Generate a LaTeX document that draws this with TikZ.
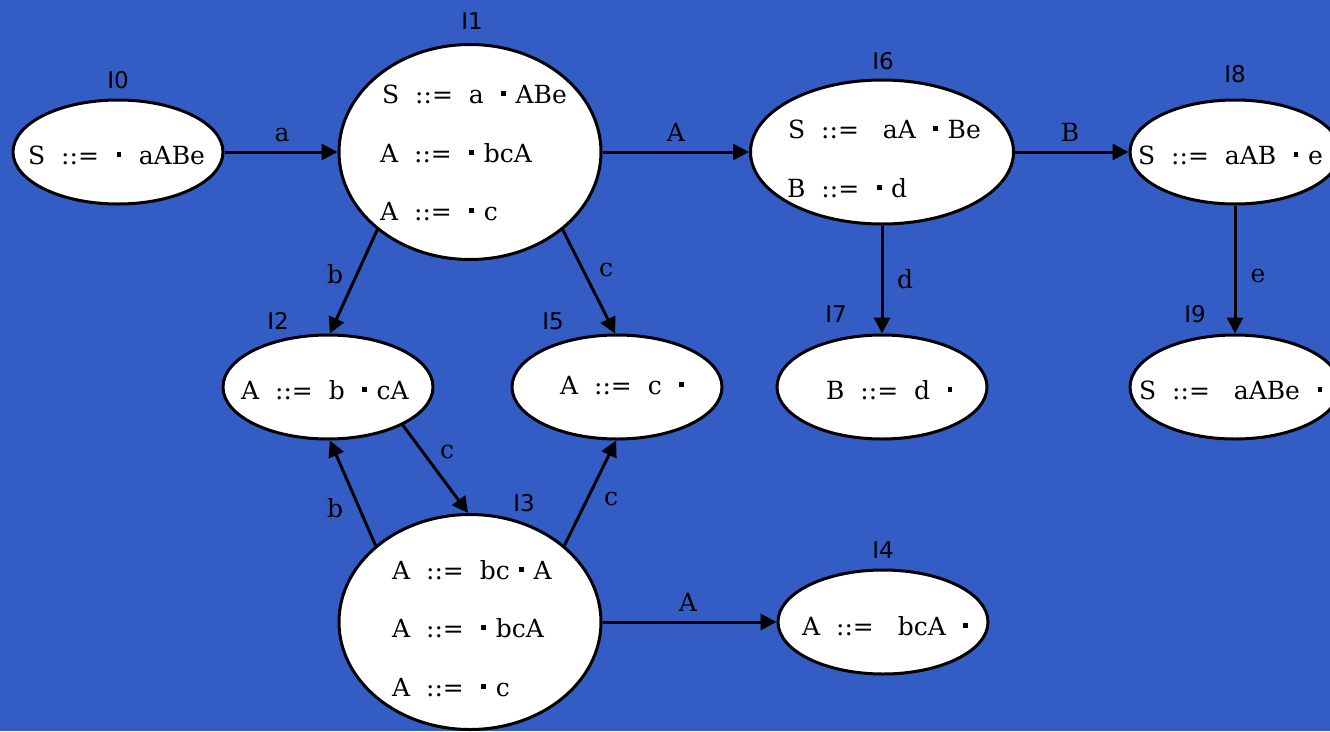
\documentclass[tikz,border=0pt]{standalone}
\usepackage{fontspec}
\setmainfont{DejaVu Serif}
\newfontfamily\idfont{DejaVu Sans}
\usetikzlibrary{arrows.meta,shapes.geometric}
\definecolor{bg}{RGB}{51,92,196}
\newcommand\md{\hbox to 8pt{\hss\rule[7.4pt]{4.7pt}{4.7pt}\hss}}
\begin{document}
\begin{tikzpicture}[x=1pt,y=-1pt,
  state/.style={ellipse, draw=black, fill=white, line width=3pt, inner sep=0pt},
  smallstate/.style={state, minimum width=210pt, minimum height=104pt},
  bigstate/.style={state, minimum width=262pt, minimum height=215pt},
  midstate/.style={state, minimum width=263pt, minimum height=144pt},
  item/.style={anchor=base west, inner sep=0pt, font=\fontsize{25}{30}\selectfont},
  ident/.style={anchor=base, inner sep=0pt, font=\idfont\fontsize{23}{28}\selectfont},
  elabel/.style={anchor=base, inner sep=0pt, font=\fontsize{25}{30}\selectfont},
  conn/.style={line width=3pt, -{Triangle[length=16pt,width=16pt]}}
]
\clip (0,0) rectangle (1330,731);
\fill[bg] (0,0) rectangle (1330,731);

% states
\node[smallstate] (I0) at (118,152) {};
\node[bigstate]   (I1) at (470,152) {};
\node[midstate]   (I6) at (882,152) {};
\node[smallstate] (I8) at (1235,152) {};
\node[smallstate] (I2) at (328,387) {};
\node[smallstate] (I5) at (617,387) {};
\node[smallstate] (I7) at (882,387) {};
\node[smallstate] (I9) at (1235,387) {};
\node[bigstate]   (I3) at (470,622) {};
\node[smallstate] (I4) at (883,622) {};

% item texts
\node[item] (t0)  at (28,164)  {S~~::=~~\md~~aABe};
\node[item] (t1a) at (382,103) {S~~::=~~a~~\md~ABe};
\node[item] (t1b) at (380,162) {A~~::=~~\md~bcA};
\node[item] (t1c) at (380,220) {A~~::=~~\md~c};
\node[item] (t6a) at (788,138) {S~~::=~~~aA~~\md~Be};
\node[item] (t6b) at (787,197) {B~~::=~~\md~d};
\node[item] (t8)  at (1138,164) {S~~::=~~aAB~~\md~e};
\node[item] (t2)  at (241,399) {A~~::=~~b~~\md~cA};
\node[item] (t5)  at (560,394) {A~~::=~~c~~\md};
\node[item] (t7)  at (826,399) {B~~::=~~d~~\md};
\node[item] (t9)  at (1139,399) {S~~::=~~~aABe~~\md};
\node[item] (t3a) at (392,579) {A~~::=~~bc~\md~A};
\node[item] (t3b) at (392,637) {A~~::=~~\md~bcA};
\node[item] (t3c) at (392,696) {A~~::=~~\md~c};
\node[item] (t4)  at (802,635) {A~~::=~~~bcA~~\md};

% state identifiers
\node[ident] (n0) at (118,88)  {I0};
\node[ident] (n1) at (472,29)  {I1};
\node[ident] (n6) at (883,69)  {I6};
\node[ident] (n8) at (1235,82) {I8};
\node[ident] (n2) at (278,329) {I2};
\node[ident] (n5) at (553,329) {I5};
\node[ident] (n7) at (836,322) {I7};
\node[ident] (n9) at (1195,322) {I9};
\node[ident] (n3) at (524,511) {I3};
\node[ident] (n4) at (883,558) {I4};

% transitions
\draw[conn] (I0.east) -- (I1.west);
\draw[conn] (I1.east) -- (I6.west);
\draw[conn] (I6.east) -- (I8.west);
\draw[conn] (I1.220) -- (I2.88);
\draw[conn] (I1.320) -- (I5.92);
\draw[conn] (I6.south) -- (I7.north);
\draw[conn] (I8.south) -- (I9.north);
\draw[conn] (I2.333) -- (I3.91);
\draw[conn] (I3.141) -- (I2.272);
\draw[conn] (I3.39) -- (I5.269);
\draw[conn] (I3.east) -- (I4.west);

% transition labels
\node[elabel] (l01) at (282,141) {a};
\node[elabel] (l16) at (676,141) {A};
\node[elabel] (l68) at (1070,141) {B};
\node[elabel] (l12) at (335,283) {b};
\node[elabel] (l15) at (606,276) {c};
\node[elabel] (l67) at (905,288) {d};
\node[elabel] (l89) at (1258,282) {e};
\node[elabel] (l23) at (447,458) {c};
\node[elabel] (l32) at (335,517) {b};
\node[elabel] (l35) at (611,505) {c};
\node[elabel] (l34) at (688,611) {A};
\end{tikzpicture}
\end{document}
